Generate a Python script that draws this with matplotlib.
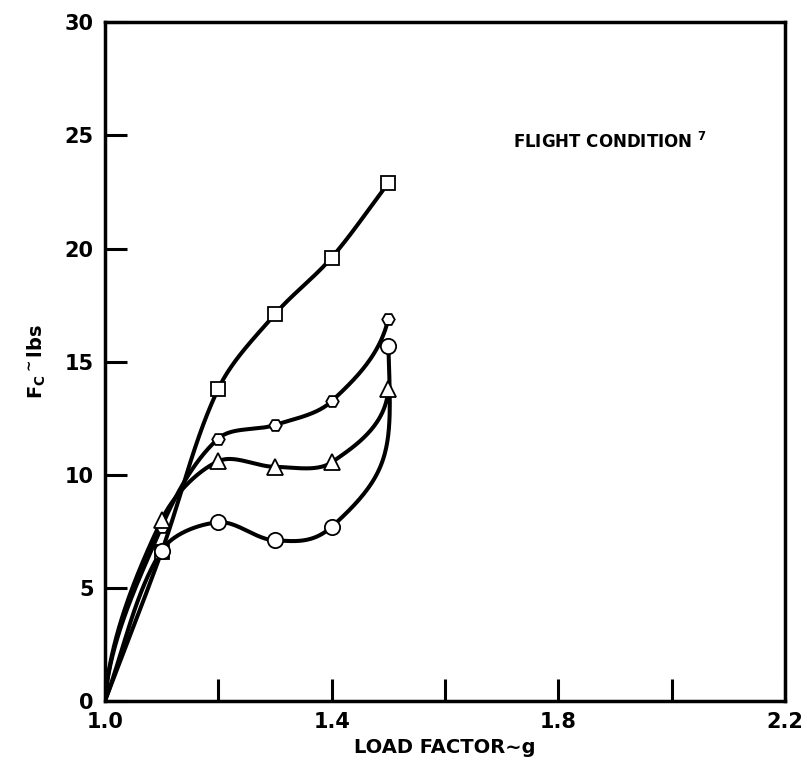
import numpy as np
import matplotlib.pyplot as plt

plt.rcParams['font.family'] = ['DejaVu Sans']
plt.rcParams['font.weight'] = 'bold'

load = [1.0, 1.1, 1.2, 1.3, 1.4, 1.5]

fc_square = [0.0, 6.6, 13.8, 17.1, 19.6, 22.9]
fc_hex = [0.0, 7.7, 11.6, 12.2, 13.25, 16.9]
fc_tri = [0.0, 8.0, 10.6, 10.35, 10.55, 13.8]
fc_circle = [0.0, 6.65, 7.9, 7.1, 7.7, 15.7]

X0, XSPAN, YSPAN = 1.0, 1.2, 30.0


def smooth(xs, ys, tangents=None, n=80):
    # chord-length cubic Hermite through the points, in axes-fraction units
    p = np.column_stack([(np.array(xs) - X0) / XSPAN, np.array(ys) / YSPAN])
    m = len(p)
    d = np.linalg.norm(np.diff(p, axis=0), axis=1)
    t = np.zeros_like(p)
    t[0] = (p[1] - p[0]) / d[0]
    t[-1] = (p[-1] - p[-2]) / d[-1]
    for i in range(1, m - 1):
        t[i] = (p[i + 1] - p[i - 1]) / (d[i - 1] + d[i])
    for i, v in (tangents or {}).items():
        t[i] = v
    s = np.linspace(0, 1, n)[:, None]
    h00 = 2 * s**3 - 3 * s**2 + 1
    h10 = s**3 - 2 * s**2 + s
    h01 = -2 * s**3 + 3 * s**2
    h11 = s**3 - s**2
    out = [h00 * p[i] + h10 * t[i] * d[i] + h01 * p[i + 1] + h11 * t[i + 1] * d[i]
           for i in range(m - 1)]
    q = np.vstack(out)
    return X0 + q[:, 0] * XSPAN, q[:, 1] * YSPAN


fig = plt.figure(figsize=(8.07, 7.67), dpi=100)
ax = fig.add_axes([0.130, 0.086, 0.843, 0.885])

series = [
    (fc_square, 's', 10, {}),
    (fc_hex, 'H', 9, {0: (0.08, 1.0), 5: (0.25, 1.1)}),
    (fc_tri, '^', 11, {0: (0.08, 1.0), 5: (0.08, 1.2)}),
    (fc_circle, 'o', 11, {4: (1.0, 0.9), 5: (-0.05, 1.6)}),
]

for ys, mk, ms, tg in series:
    cx, cy = smooth(load, ys, tg)
    ax.plot(cx, cy, color='black', lw=2.9, solid_capstyle='round', zorder=2)
    ax.plot(load[1:], ys[1:], linestyle='none', marker=mk, ms=ms,
            mfc='white', mec='black', mew=1.3, zorder=3)

ax.set_xlim(1.0, 2.2)
ax.set_ylim(0, 30)
ax.set_xticks([1.0, 1.2, 1.4, 1.6, 1.8, 2.0, 2.2])
ax.set_xticklabels(['1.0', '', '1.4', '', '1.8', '', '2.2'])
ax.set_yticks(range(0, 31, 5))

ax.tick_params(direction='in', length=16, width=2.2, labelsize=15, pad=8)
for lbl in ax.get_xticklabels() + ax.get_yticklabels():
    lbl.set_fontweight('bold')
for sp in ax.spines.values():
    sp.set_linewidth(2.5)

ax.set_xlabel('LOAD FACTOR\u223cg', fontsize=14, fontweight='bold', labelpad=4)
ax.set_ylabel(r'F$_\mathregular{C}$$^\mathregular{\sim}$lbs', fontsize=14,
              fontweight='bold', labelpad=12)

ax.text(1.72, 24.7, r'FLIGHT CONDITION $^\mathregular{7}$', fontsize=12,
        fontweight='bold', va='center', ha='left')

fig.savefig('out.png', dpi=100)
